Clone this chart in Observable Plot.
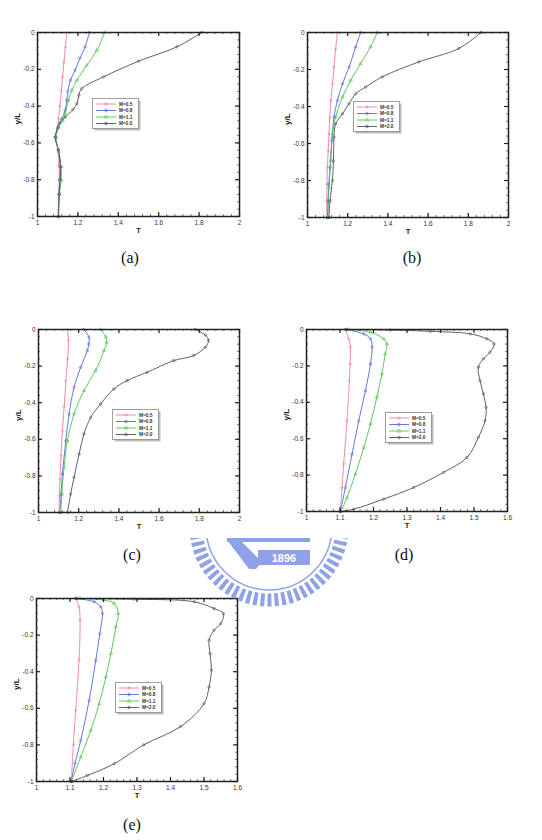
<!DOCTYPE html>
<html><head><meta charset="utf-8">
<script src="https://cdn.jsdelivr.net/npm/d3@7"></script>
<script src="https://cdn.jsdelivr.net/npm/@observablehq/plot@0.6"></script>
<style>
body{margin:0;background:#fff;}
#root{position:relative;width:542px;height:840px;overflow:hidden;background:#fff;}
.pan{position:absolute;}
.cap{position:absolute;font-family:"Liberation Serif","Times New Roman",serif;font-size:16px;color:#111;transform:translate(-50%,-50%);white-space:nowrap;}
</style></head><body><div id="root"></div>
<script>
// ---------- data ----------
const seriesLabels = ["M=0.5", "M=0.8", "M=1.1", "M=2.0"];
const panelNames = ["(a)", "(b)", "(c)", "(d)", "(e)"];
const xTicksWide = [1, 1.2, 1.4, 1.6, 1.8, 2];
const xTicksNarrow = [1, 1.1, 1.2, 1.3, 1.4, 1.5, 1.6];
const yTicks = [-1, -0.8, -0.6, -0.4, -0.2, 0];
const watermarkText = "1896";

// [T, y/L] pairs
const a_M05 = [[1.145,0],[1.138,-0.08],[1.131,-0.16],[1.124,-0.24],[1.118,-0.32],[1.111,-0.40],[1.104,-0.47],[1.098,-0.52],[1.088,-0.57],[1.100,-0.63],[1.106,-0.72],[1.108,-0.80],[1.104,-0.88],[1.102,-1]];
const a_M08 = [[1.257,0],[1.236,-0.078],[1.21,-0.14],[1.186,-0.205],[1.163,-0.26],[1.15,-0.32],[1.145,-0.368],[1.137,-0.423],[1.12,-0.47],[1.103,-0.51],[1.090,-0.57],[1.103,-0.64],[1.112,-0.73],[1.110,-0.80],[1.106,-0.88],[1.103,-1]];
const a_M11 = [[1.332,0],[1.294,-0.096],[1.244,-0.178],[1.195,-0.26],[1.170,-0.314],[1.153,-0.368],[1.137,-0.441],[1.125,-0.48],[1.105,-0.515],[1.092,-0.57],[1.105,-0.65],[1.116,-0.73],[1.118,-0.80],[1.108,-0.88],[1.104,-1]];
const a_M20 = [[1.813,0],[1.69,-0.078],[1.50,-0.156],[1.327,-0.241],[1.219,-0.305],[1.205,-0.34],[1.195,-0.387],[1.175,-0.42],[1.137,-0.46],[1.11,-0.49],[1.10,-0.52],[1.087,-0.568],[1.104,-0.64],[1.115,-0.73],[1.112,-0.80],[1.108,-0.877],[1.104,-1]];

const b_M05 = [[1.149,0],[1.140,-0.09],[1.132,-0.186],[1.124,-0.28],[1.116,-0.367],[1.111,-0.46],[1.107,-0.548],[1.103,-0.64],[1.099,-0.729],[1.097,-0.82],[1.096,-0.91],[1.096,-1]];
const b_M08 = [[1.264,0],[1.24,-0.078],[1.207,-0.186],[1.174,-0.277],[1.149,-0.367],[1.132,-0.457],[1.121,-0.584],[1.112,-0.729],[1.106,-0.82],[1.102,-0.91],[1.099,-1]];
const b_M11 = [[1.347,0],[1.314,-0.078],[1.264,-0.168],[1.215,-0.259],[1.174,-0.349],[1.14,-0.457],[1.124,-0.548],[1.116,-0.693],[1.107,-0.837],[1.104,-0.92],[1.102,-1]];
const b_M20 = [[1.863,0],[1.752,-0.087],[1.554,-0.159],[1.372,-0.24],[1.289,-0.295],[1.240,-0.331],[1.207,-0.385],[1.174,-0.439],[1.14,-0.494],[1.132,-0.566],[1.129,-0.693],[1.124,-0.80],[1.112,-0.91],[1.107,-1]];

const c_M05 = [[1.144,0],[1.149,-0.06],[1.145,-0.16],[1.136,-0.28],[1.128,-0.42],[1.119,-0.553],[1.112,-0.69],[1.107,-0.82],[1.104,-0.91],[1.102,-1]];
const c_M08 = [[1.226,0],[1.251,-0.042],[1.250,-0.08],[1.243,-0.115],[1.21,-0.206],[1.177,-0.316],[1.152,-0.462],[1.136,-0.608],[1.119,-0.79],[1.112,-0.9],[1.107,-1]];
const c_M11 = [[1.309,0],[1.335,-0.04],[1.339,-0.07],[1.326,-0.115],[1.284,-0.224],[1.226,-0.334],[1.177,-0.462],[1.144,-0.608],[1.127,-0.754],[1.116,-0.9],[1.111,-1]];
const c_M20 = [[1.78,0],[1.83,-0.03],[1.846,-0.06],[1.83,-0.097],[1.772,-0.142],[1.673,-0.17],[1.54,-0.234],[1.441,-0.279],[1.375,-0.325],[1.309,-0.407],[1.26,-0.48],[1.226,-0.571],[1.202,-0.681],[1.177,-0.808],[1.16,-0.9],[1.144,-1]];

const d_M05 = [[1.116,0],[1.126,-0.051],[1.131,-0.097],[1.130,-0.19],[1.128,-0.281],[1.121,-0.501],[1.111,-0.739],[1.106,-0.87],[1.101,-1]];
const d_M08 = [[1.116,0],[1.171,-0.024],[1.191,-0.051],[1.196,-0.097],[1.191,-0.189],[1.176,-0.336],[1.156,-0.501],[1.136,-0.684],[1.116,-0.868],[1.101,-1]];
const d_M11 = [[1.126,0],[1.191,-0.015],[1.23,-0.051],[1.24,-0.079],[1.235,-0.134],[1.225,-0.244],[1.21,-0.372],[1.191,-0.519],[1.171,-0.648],[1.146,-0.794],[1.121,-0.923],[1.103,-1]];
const d_M20 = [[1.12,0],[1.25,-0.003],[1.37,-0.01],[1.489,-0.024],[1.538,-0.051],[1.56,-0.079],[1.548,-0.125],[1.528,-0.161],[1.513,-0.207],[1.518,-0.281],[1.528,-0.354],[1.536,-0.428],[1.533,-0.501],[1.513,-0.593],[1.479,-0.703],[1.409,-0.785],[1.32,-0.868],[1.23,-0.932],[1.141,-0.987],[1.101,-1]];

const e_M05 = [[1.117,0],[1.127,-0.046],[1.13,-0.119],[1.127,-0.338],[1.117,-0.611],[1.110,-0.8],[1.104,-1]];
const e_M08 = [[1.117,0],[1.172,-0.018],[1.192,-0.046],[1.197,-0.082],[1.189,-0.192],[1.177,-0.338],[1.157,-0.557],[1.132,-0.776],[1.115,-0.9],[1.104,-1]];
const e_M11 = [[1.13,0],[1.20,-0.008],[1.232,-0.027],[1.244,-0.082],[1.237,-0.155],[1.222,-0.301],[1.207,-0.429],[1.187,-0.575],[1.162,-0.721],[1.132,-0.867],[1.104,-1]];
const e_M20 = [[1.12,0],[1.292,-0.004],[1.471,-0.018],[1.53,-0.055],[1.558,-0.082],[1.55,-0.137],[1.53,-0.173],[1.515,-0.228],[1.518,-0.301],[1.522,-0.392],[1.515,-0.484],[1.5,-0.575],[1.43,-0.70],[1.32,-0.80],[1.232,-0.903],[1.152,-0.967],[1.104,-1]];

// ---------- styling / layout ----------
const colors = ["#ec7fa2", "#5468dc", "#4fc24f", "#505050"];
const symbols = ["plus", "circle", "triangle", "circle"];
const root = document.getElementById("root");

const panels = [
  {name: panelNames[0], L: 37, R: 239, T: 32, B: 216, xTicks: xTicksWide, minor: 0.04, series: [a_M05, a_M08, a_M11, a_M20], leg: [92, 98], cap: [130, 258]},
  {name: panelNames[1], L: 307, R: 508, T: 32, B: 217, xTicks: xTicksWide, minor: 0.04, series: [b_M05, b_M08, b_M11, b_M20], leg: [353, 101], cap: [412, 258]},
  {name: panelNames[2], L: 38, R: 239, T: 329, B: 512, xTicks: xTicksWide, minor: 0.04, series: [c_M05, c_M08, c_M11, c_M20], leg: [112, 409], cap: [132, 555]},
  {name: panelNames[3], L: 306, R: 507, T: 329, B: 511, xTicks: xTicksNarrow, minor: 0.02, series: [d_M05, d_M08, d_M11, d_M20], leg: [385, 412], cap: [404, 555]},
  {name: panelNames[4], L: 36, R: 237, T: 598, B: 781, xTicks: xTicksNarrow, minor: 0.02, series: [e_M05, e_M08, e_M11, e_M20], leg: [115, 682], cap: [132, 825]}
];

const fmt = d => String(+(+d).toFixed(2));
const symMap = {plus: d3.symbolPlus, circle: d3.symbolCircle, triangle: d3.symbolTriangle};

function drawPanel(p) {
  const W = p.R - p.L, H = p.B - p.T;
  const mL = 40, mT = 8, mR = 8, mB = 32;
  const x0 = p.xTicks[0], x1 = p.xTicks[p.xTicks.length - 1];
  const kx = (x1 - x0) / W, ky = 1 / H;
  const data = [];
  p.series.forEach((s, i) => s.forEach(([t, y]) => data.push({T: t, y, M: seriesLabels[i]})));
  const nx = Math.round((x1 - x0) / p.minor);
  const xMinor = d3.range(nx + 1).map(i => x0 + i * p.minor);
  const yMinor = d3.range(26).map(i => -1 + i * 0.04);
  const maj = 4, mn = 2;
  const tc = "#222";
  const plot = Plot.plot({
    width: W + mL + mR, height: H + mT + mB,
    marginLeft: mL, marginTop: mT, marginRight: mR, marginBottom: mB,
    style: {fontFamily: "'Liberation Sans', Arial, sans-serif", background: "transparent", overflow: "visible", color: "#222"},
    x: {domain: [x0, x1], axis: null},
    y: {domain: [-1, 0], axis: null},
    color: {domain: seriesLabels, range: colors},
    symbol: {domain: seriesLabels, range: symbols},
    marks: [
      Plot.line(data, {x: "T", y: "y", z: "M", stroke: "M", strokeWidth: 0.9, curve: "catmull-rom"}),
      Plot.dot(data, {x: "T", y: "y", stroke: "M", symbol: "M", r: 1.2, strokeWidth: 0.6}),
      // minor ticks (inward, all sides)
      Plot.ruleX(xMinor, {x: d => d, y1: -1, y2: -1 + mn * ky, stroke: tc, strokeWidth: 0.6}),
      Plot.ruleX(xMinor, {x: d => d, y1: 0, y2: -mn * ky, stroke: tc, strokeWidth: 0.6}),
      Plot.ruleY(yMinor, {y: d => d, x1: x0, x2: x0 + mn * kx, stroke: tc, strokeWidth: 0.6}),
      Plot.ruleY(yMinor, {y: d => d, x1: x1, x2: x1 - mn * kx, stroke: tc, strokeWidth: 0.6}),
      // major ticks
      Plot.ruleX(p.xTicks, {x: d => d, y1: -1, y2: -1 + maj * ky, stroke: tc, strokeWidth: 1.2}),
      Plot.ruleX(p.xTicks, {x: d => d, y1: 0, y2: -maj * ky, stroke: tc, strokeWidth: 1.2}),
      Plot.ruleY(yTicks, {y: d => d, x1: x0, x2: x0 + maj * kx, stroke: tc, strokeWidth: 1.2}),
      Plot.ruleY(yTicks, {y: d => d, x1: x1, x2: x1 - maj * kx, stroke: tc, strokeWidth: 1.2}),
      Plot.frame({stroke: tc, strokeWidth: 1.5}),
      // tick labels
      Plot.text(p.xTicks, {x: d => d, y: -1, text: fmt, dy: 6, fontSize: 6.5, fill: "#333"}),
      Plot.text(yTicks, {x: x0, y: d => d, text: fmt, dx: -3, textAnchor: "end", fontSize: 6.5, fill: "#333"}),
      // axis titles
      Plot.text(["T"], {text: d => d, frameAnchor: "bottom", dy: 16, fontWeight: "bold", fontSize: 7.5, fill: "#222"}),
      Plot.text(["y/L"], {text: d => d, frameAnchor: "left", dx: -20, rotate: -90, fontWeight: "bold", fontSize: 8, fill: "#222"})
    ]
  });
  plot.classList.add("pan");
  plot.style.left = (p.L - mL) + "px";
  plot.style.top = (p.T - mT) + "px";
  root.appendChild(plot);

  // legend box
  const lw = 46, lh = 30;
  const lg = d3.create("svg").attr("class", "pan").attr("width", lw + 3).attr("height", lh + 3)
    .style("left", p.leg[0] + "px").style("top", p.leg[1] + "px");
  lg.append("rect").attr("x", 2.5).attr("y", 2.5).attr("width", lw).attr("height", lh).attr("fill", "#bbb");
  lg.append("rect").attr("x", 0.5).attr("y", 0.5).attr("width", lw).attr("height", lh).attr("fill", "#fff").attr("stroke", "#888").attr("stroke-width", 0.8);
  seriesLabels.forEach((lab, i) => {
    const yy = 6 + i * 6.5;
    lg.append("line").attr("x1", 4).attr("x2", 24).attr("y1", yy).attr("y2", yy).attr("stroke", colors[i]).attr("stroke-width", 0.9);
    lg.append("path").attr("d", d3.symbol(symMap[symbols[i]], 6)()).attr("transform", `translate(14,${yy})`)
      .attr("fill", "none").attr("stroke", colors[i]).attr("stroke-width", 0.6);
    lg.append("text").attr("x", 27).attr("y", yy + 1.6).text(lab)
      .attr("font-family", "'Liberation Sans', Arial, sans-serif").attr("font-size", 4.8).attr("font-weight", "bold").attr("fill", "#333");
  });
  root.appendChild(lg.node());

  const cap = document.createElement("div");
  cap.className = "cap";
  cap.style.left = p.cap[0] + "px";
  cap.style.top = p.cap[1] + "px";
  cap.textContent = p.name;
  root.appendChild(cap);
}

panels.forEach(drawPanel);

// ---------- watermark (faint university logo) ----------
(function () {
  const wc = "#8fa2e8";
  const ox = 180, oy = 530;
  const svg = d3.create("svg").attr("class", "pan").attr("width", 180).attr("height", 85)
    .attr("viewBox", `${ox} ${oy} 180 85`)
    .style("left", ox + "px").style("top", oy + "px");
  svg.append("defs").append("clipPath").attr("id", "wmclip")
    .append("rect").attr("x", ox).attr("y", 538).attr("width", 180).attr("height", 80);
  const g = svg.append("g").attr("clip-path", "url(#wmclip)");
  const cx = 269, cy = 527;
  g.append("circle").attr("cx", cx).attr("cy", cy).attr("r", 73).attr("fill", "none")
    .attr("stroke", wc).attr("stroke-width", 13).attr("stroke-dasharray", "4 3");
  g.append("circle").attr("cx", cx).attr("cy", cy).attr("r", 63).attr("fill", "none")
    .attr("stroke", wc).attr("stroke-width", 1.5);
  g.append("rect").attr("x", 227).attr("y", 538).attr("width", 83).attr("height", 4).attr("fill", wc);
  g.append("path").attr("d", "M227,540 L240,540 L262,562 L256,569 L249,569 Z").attr("fill", wc);
  g.append("rect").attr("x", 258).attr("y", 550).attr("width", 52).attr("height", 15).attr("fill", wc);
  g.append("text").attr("x", 284).attr("y", 561.5).attr("text-anchor", "middle").text(watermarkText)
    .attr("font-family", "'Liberation Sans', Arial, sans-serif").attr("font-size", 11).attr("font-weight", "bold").attr("fill", "#fff");
  root.appendChild(svg.node());
})();
</script>
</body></html>
